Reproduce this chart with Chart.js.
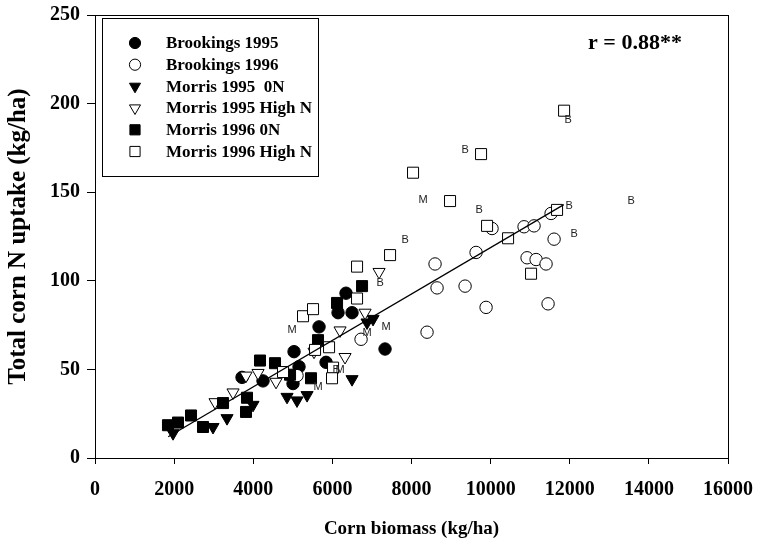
<!DOCTYPE html>
<html><head><meta charset="utf-8">
<script src="https://cdn.jsdelivr.net/npm/chart.js@4"></script>
<style>html,body{margin:0;padding:0;background:#fff}</style>
</head><body>
<canvas id="c" width="759" height="540"></canvas>
<script>
// ---- data ----
const seriesNames = ["Brookings 1995", "Brookings 1996", "Morris 1995  0N", "Morris 1995 High N", "Morris 1996 0N", "Morris 1996 High N"];
const xTicks = [0, 2000, 4000, 6000, 8000, 10000, 12000, 14000, 16000];
const yTicks = [0, 50, 100, 150, 200, 250];

const brookings1995 = [[6345,93],[6143,82],[6497,82],[5663,74],[5031,60],[5840,54],[7331,61.5],[5005,42],[4247,43.5],[3716,45.5],[5157,51.5]];
const brookings1996 = [[8393,71],[8595,109.5],[8646,96],[9354,97],[9632,116],[9885,85],[10036,129.5],[10845,130.5],[11098,131],[11528,138],[11604,123.5],[10921,113],[11149,112],[11401,109.5],[11452,87],[6725,67],[5106,46.5]];
const morris1995_0N = [[1972,14],[2983,17.5],[3337,22.5],[3994,30],[4854,34.5],[5106,32.5],[5360,35.5],[6497,44.5],[6876,76.5],[7028,78.5]];
const morris1995_HighN = [[3034,31.5],[3489,37],[3817,46.5],[4121,48],[4576,43],[5536,60],[6194,72],[6320,57],[6826,82],[7180,105]];
const morris1996_0N = [[1845,18.5],[2098,20],[2427,24],[2730,17.5],[3236,31],[3842,34],[3817,26],[4171,55],[4550,53.5],[4930,47],[5460,45],[5637,66.5],[6118,87.5],[6750,97]];
const morris1996_HighN = [[11857,196],[9758,171.5],[8039,161],[8974,145],[9910,131],[10441,124],[11679,140],[11022,104],[7458,114.5],[6624,108],[6624,90],[5258,80],[5511,84],[5562,61],[5916,62.5],[4753,48.5],[6017,51],[5991,45]];

const regressionX = [1850, 11850];
const regressionY = [12, 143];

const labelM = [[4980,72],[8292,145.5],[7356,74],[5637,40],[6194,49.5],[6876,70.5]];
const labelB = [[9354,174],[11957,190.5],[7837,123],[9708,140],[11983,142],[12109,126.5],[13550,145],[7205,99],[6093,49.5]];
const rText = "r = 0.88**";

// ---- styles ----
const serif = "'Liberation Serif', 'Times New Roman', serif";
const styles = [
  {pointStyle:'circle', rotation:0, radius:6.2, fill:'#000'},
  {pointStyle:'circle', rotation:0, radius:6.2, fill:'#fff'},
  {pointStyle:'triangle', rotation:180, radius:7, fill:'#000'},
  {pointStyle:'triangle', rotation:180, radius:7, fill:'#fff'},
  {pointStyle:'rect', rotation:0, radius:7.8, fill:'#000'},
  {pointStyle:'rect', rotation:0, radius:7.8, fill:'#fff'}
];
const seriesData = [brookings1995, brookings1996, morris1995_0N, morris1995_HighN, morris1996_0N, morris1996_HighN];

const datasets = seriesData.map((arr, i) => ({
  label: seriesNames[i],
  data: arr.map(p => ({x: p[0], y: p[1]})),
  pointStyle: styles[i].pointStyle,
  rotation: styles[i].rotation,
  pointRadius: styles[i].radius,
  pointBackgroundColor: styles[i].fill,
  pointBorderColor: '#000',
  pointBorderWidth: 1,
  showLine: false,
  order: 6 - i
}));
datasets.push({
  type: 'line',
  label: 'fit',
  data: regressionX.map((x, i) => ({x: x, y: regressionY[i]})),
  borderColor: '#000',
  borderWidth: 1.3,
  pointRadius: 0,
  fill: false,
  order: -1
});

const overlayPlugin = {
  id: 'overlay',
  afterDatasetsDraw(chart) {
    const ctx = chart.ctx, xs = chart.scales.x, ys = chart.scales.y;
    ctx.save();
    // scatter letter labels
    ctx.font = "11px 'Liberation Sans', Arial, sans-serif";
    ctx.fillStyle = '#222';
    ctx.textAlign = 'center';
    ctx.textBaseline = 'middle';
    labelM.forEach(p => ctx.fillText('M', xs.getPixelForValue(p[0]), ys.getPixelForValue(p[1])));
    labelB.forEach(p => ctx.fillText('B', xs.getPixelForValue(p[0]), ys.getPixelForValue(p[1])));
    // frame
    const a = chart.chartArea;
    ctx.strokeStyle = '#000';
    ctx.lineWidth = 1;
    ctx.strokeRect(Math.round(a.left) + 0.5, Math.round(a.top) + 0.5, Math.round(a.right - a.left), Math.round(a.bottom - a.top));
    // r text
    ctx.font = "bold 22px " + serif;
    ctx.fillStyle = '#000';
    ctx.textAlign = 'center';
    ctx.fillText(rText, 635, 43);
    // legend box
    const bx = 102, by = 18, bw = 216, bh = 158;
    ctx.fillStyle = '#fff';
    ctx.fillRect(bx, by, bw, bh);
    ctx.strokeRect(bx + 0.5, by + 0.5, bw, bh);
    ctx.font = "bold 17px " + serif;
    ctx.textAlign = 'left';
    ctx.textBaseline = 'middle';
    seriesNames.forEach((name, i) => {
      const yy = 43 + i * 21.7;
      ctx.fillStyle = styles[i].fill;
      ctx.strokeStyle = '#000';
      ctx.lineWidth = 1;
      Chart.helpers.drawPoint(ctx, {pointStyle: styles[i].pointStyle, rotation: styles[i].rotation, radius: styles[i].radius - 0.6, borderWidth: 1}, 135, yy);
      ctx.fillStyle = '#000';
      ctx.fillText(name, 166, yy + 1);
    });
    ctx.restore();
  }
};

new Chart(document.getElementById('c'), {
  type: 'scatter',
  data: {datasets: datasets},
  plugins: [overlayPlugin],
  options: {
    responsive: false,
    animation: false,
    devicePixelRatio: 1,
    layout: {padding: {top: 15, right: 31, left: 0, bottom: 0}},
    plugins: {legend: {display: false}, tooltip: {enabled: false}},
    scales: {
      x: {
        type: 'linear', min: 0, max: 16000,
        afterBuildTicks: s => { s.ticks = xTicks.map(v => ({value: v})); },
        afterFit: s => { s.height = 82; s.paddingLeft = 0; s.paddingRight = 0; },
        ticks: {color: '#000', font: {family: serif, size: 20, weight: 'bold'}, padding: 14, maxRotation: 0, autoSkip: false, callback: v => String(v)},
        grid: {display: true, drawOnChartArea: false, drawTicks: true, tickLength: 6, color: '#000', lineWidth: 1},
        border: {display: true, color: '#000', width: 1},
        title: {display: true, text: 'Corn biomass (kg/ha)', color: '#000', font: {family: serif, size: 19, weight: 'bold'}, padding: {top: 0, bottom: 0}}
      },
      y: {
        type: 'linear', min: 0, max: 250,
        afterBuildTicks: s => { s.ticks = yTicks.map(v => ({value: v})); },
        afterFit: s => { s.width = 95; s.paddingTop = 0; s.paddingBottom = 0; },
        ticks: {color: '#000', font: {family: serif, size: 20, weight: 'bold'}, padding: 7, callback: v => String(v)},
        grid: {display: true, drawOnChartArea: false, drawTicks: true, tickLength: 8, color: '#000', lineWidth: 1},
        border: {display: true, color: '#000', width: 1},
        title: {display: true, text: 'Total corn N uptake (kg/ha)', color: '#000', font: {family: serif, size: 25, weight: 'bold'}, padding: {top: 4, bottom: 0}}
      }
    }
  }
});
</script>
</body></html>
